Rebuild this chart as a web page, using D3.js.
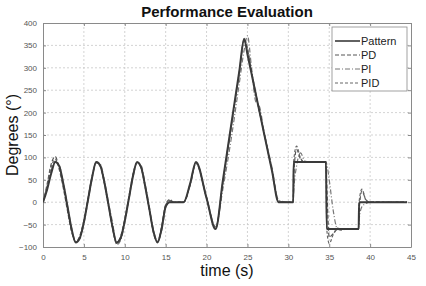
<!DOCTYPE html>
<html>
<head>
<meta charset="utf-8">
<script src="https://cdn.jsdelivr.net/npm/d3@7"></script>
<style>
  body { margin: 0; background: #fff; }
  text { font-family: Arial, "Liberation Sans", sans-serif; }
</style>
</head>
<body>
<div id="chart"></div>
<script>
// time samples (s), shared by all series
const timeS = [
  0, 0.5, 1, 1.5, 2, 2.5, 3, 3.5, 4, 4.5,
  5, 5.5, 6, 6.5, 7, 7.5, 8, 8.5, 9, 9.5,
  10, 10.5, 11, 11.5, 12, 12.5, 13, 13.5, 14, 14.5,
  15, 15.5, 16, 17.2, 18, 18.7, 20, 21.1, 22, 23,
  24, 24.6, 25, 25.5, 26, 26.5, 27, 28, 28.8, 30,
  30.6, 30.65, 31, 31.5, 32, 33, 34.6, 34.7, 35, 35.5,
  36, 36.5, 37, 38.6, 38.65, 39, 39.5, 40, 42, 44.5
];

const pattern = [
  0, 28, 64, 90, 80, 40, -10, -60, -90, -80,
  -45, 5, 55, 90, 82, 45, -5, -55, -90, -80,
  -42, 8, 58, 90, 78, 35, -15, -65, -90, -60,
  -10, 0, 0, 0, 42, 90, 9, -60, 49, 171,
  292, 365, 330, 287, 243, 200, 156, 70, 0, 0,
  0, 90, 90, 90, 90, 90, 90, -60, -60, -60,
  -60, -60, -60, -60, 0, 0, 0, 0, 0, 0
];

const pd = [
  0, 40, 85, 102, 72, 30, -20, -66, -88, -75,
  -40, 8, 58, 88, 80, 42, -8, -58, -92, -75,
  -38, 12, 62, 88, 76, 33, -18, -68, -88, -55,
  -5, 6, 0, 0, 40, 88, 10, -58, 45, 165,
  288, 360, 340, 292, 245, 200, 158, 72, 2, 0,
  0, 55, 118, 96, 90, 90, 90, 40, -78, -70,
  -61, -60, -60, -60, -20, 25, 5, 0, 0, 0
];

const pi = [
  0, 30, 70, 92, 82, 42, -8, -58, -88, -82,
  -48, 2, 52, 90, 85, 50, 0, -45, -95, -85,
  -45, 5, 55, 88, 82, 40, -10, -60, -88, -65,
  -12, 3, 0, 0, 38, 86, 12, -55, 30, 140,
  265, 340, 372, 300, 225, 212, 160, 78, 5, 0,
  0, 20, 80, 110, 92, 90, 90, 85, 50, -20,
  -60, -63, -60, -60, -40, -10, -3, 0, 0, 0
];

const pid = [
  0, 35, 78, 96, 76, 35, -15, -62, -89, -78,
  -42, 6, 56, 89, 81, 44, -6, -56, -91, -78,
  -40, 10, 60, 89, 77, 34, -16, -66, -89, -58,
  -8, 4, 0, 0, 41, 89, 9, -59, 47, 168,
  290, 363, 345, 290, 244, 200, 157, 71, 1, 0,
  0, 90, 125, 98, 90, 90, 90, -60, -92, -72,
  -58, -60, -60, -60, 0, 29, 4, 0, 0, 0
];

const seriesNames = ["Pattern", "PD", "PI", "PID"];
const xTicks = [0, 5, 10, 15, 20, 25, 30, 35, 40, 45];
const yTicks = [-100, -50, 0, 50, 100, 150, 200, 250, 300, 350, 400];

const width = 426, height = 286;
const margin = { top: 23, right: 15, bottom: 39, left: 43 };
const innerW = width - margin.left - margin.right;
const innerH = height - margin.top - margin.bottom;

const svg = d3.select("#chart").append("svg")
  .attr("width", width)
  .attr("height", height);

const g = svg.append("g")
  .attr("transform", `translate(${margin.left},${margin.top})`);

const x = d3.scaleLinear().domain([0, 45]).range([0, innerW]);
const y = d3.scaleLinear().domain([-100, 400]).range([innerH, 0]);

// grid
g.append("g").selectAll("line")
  .data(xTicks.slice(1, -1))
  .join("line")
  .attr("x1", d => x(d)).attr("x2", d => x(d))
  .attr("y1", 0).attr("y2", innerH)
  .attr("stroke", "#c8c8c8").attr("stroke-width", 0.8)
  .attr("stroke-dasharray", "2,2");

g.append("g").selectAll("line")
  .data(yTicks.slice(1, -1))
  .join("line")
  .attr("x1", 0).attr("x2", innerW)
  .attr("y1", d => y(d)).attr("y2", d => y(d))
  .attr("stroke", "#c8c8c8").attr("stroke-width", 0.8)
  .attr("stroke-dasharray", "2,2");

// axes (MATLAB style, ticks inward on all sides)
const axStyle = sel => {
  sel.select(".domain").attr("stroke", "#8a8a8a");
  sel.selectAll(".tick line").attr("stroke", "#8a8a8a");
  sel.selectAll(".tick text").attr("fill", "#555").attr("font-size", 8);
};

g.append("g")
  .attr("transform", `translate(0,${innerH})`)
  .call(d3.axisBottom(x).tickValues(xTicks).tickSizeInner(-3).tickSizeOuter(0).tickPadding(7))
  .call(axStyle);

g.append("g")
  .call(d3.axisTop(x).tickValues(xTicks).tickSizeInner(-3).tickSizeOuter(0).tickFormat(""))
  .call(axStyle);

g.append("g")
  .call(d3.axisLeft(y).tickValues(yTicks).tickSizeInner(-3).tickSizeOuter(0).tickPadding(6))
  .call(axStyle);

g.append("g")
  .attr("transform", `translate(${innerW},0)`)
  .call(d3.axisRight(y).tickValues(yTicks).tickSizeInner(-3).tickSizeOuter(0).tickFormat(""))
  .call(axStyle);

// lines
svg.append("defs").append("clipPath").attr("id", "clip")
  .append("rect").attr("width", innerW).attr("height", innerH);

const styles = {
  "Pattern": { values: pattern, color: "#3a3a3a", w: 2, dash: null },
  "PD": { values: pd, color: "#555", w: 1.2, dash: "4,2" },
  "PI": { values: pi, color: "#777", w: 1.2, dash: "5,2,1,2" },
  "PID": { values: pid, color: "#666", w: 1.2, dash: "3,2" }
};

const line = d3.line()
  .x((d, i) => x(timeS[i]))
  .y(d => y(d))
  .curve(d3.curveMonotoneX);

const plot = g.append("g").attr("clip-path", "url(#clip)");

["PI", "PD", "PID", "Pattern"].forEach(name => {
  const s = styles[name];
  plot.append("path")
    .attr("d", line(s.values))
    .attr("fill", "none")
    .attr("stroke", s.color)
    .attr("stroke-width", s.w)
    .attr("stroke-dasharray", s.dash);
});

// legend
const leg = svg.append("g").attr("transform", "translate(332,27)");
leg.append("rect")
  .attr("width", 75).attr("height", 64)
  .attr("fill", "#fff").attr("stroke", "#8a8a8a").attr("stroke-width", 0.8);

seriesNames.forEach((name, i) => {
  const s = styles[name];
  const yy = 14 + i * 14;
  leg.append("line")
    .attr("x1", 3).attr("x2", 28).attr("y1", yy).attr("y2", yy)
    .attr("stroke", s.color).attr("stroke-width", name === "Pattern" ? 1.6 : 1)
    .attr("stroke-dasharray", s.dash);
  leg.append("text")
    .attr("x", 29).attr("y", yy + 4)
    .attr("font-size", 11).attr("fill", "#222")
    .text(name);
});

// title and axis labels
svg.append("text")
  .attr("x", margin.left + innerW / 2).attr("y", 17)
  .attr("text-anchor", "middle")
  .attr("font-size", 15).attr("font-weight", "bold").attr("fill", "#111")
  .text("Performance Evaluation");

svg.append("text")
  .attr("x", margin.left + innerW / 2).attr("y", 276)
  .attr("text-anchor", "middle")
  .attr("font-size", 16).attr("fill", "#111")
  .text("time (s)");

svg.append("text")
  .attr("transform", `translate(18,${margin.top + innerH / 2}) rotate(-90)`)
  .attr("text-anchor", "middle")
  .attr("font-size", 16).attr("fill", "#111")
  .text("Degrees (°)");
</script>
</body>
</html>
